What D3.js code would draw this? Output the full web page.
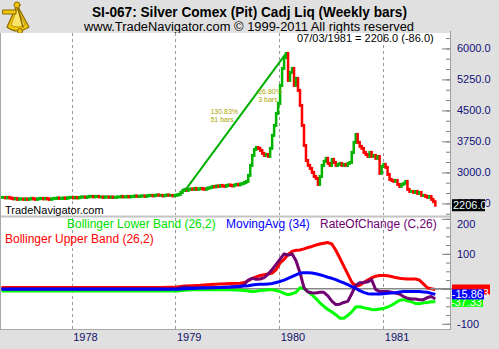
<!DOCTYPE html>
<html><head><meta charset="utf-8">
<script src="https://cdn.jsdelivr.net/npm/d3@7"></script>
<style>
body{margin:0;background:#e0e0e0;}
svg{display:block;font-family:Arial,"Liberation Sans",sans-serif;}
</style>
</head><body>
<svg id="c" width="499" height="349"></svg>
<script>
// ---------------- DATA ----------------
const startDate = "1977-04-29";           // first weekly bar (Friday)
const lastLabel = "07/03/1981 = 2206.0 (-86.0)";
const closes = [
 2395,2395,2383,2395,2383,
 2371,2359,2371,2347,2359,2359,2347,2359,2347,2359,
 2371,2359,2347,2359,2371,2371,2359,2371,2359,2347,2359,2371,2371,2383,2371,
 2371,2383,2371,2383,2395,2395,2383,2395,2383,2395,2407,2407,2395,2407,2419,
 2419,2407,2419,2419,2407,
 2407,2395,2407,2407,2395,2407,2395,2395,2407,2407,2419,2407,2407,2419,2407,2419,2419,2432,2419,2419,2432,2432,2419,2432,2444,
 2444,2432,2444,2456,2444,2444,2432,2444,2456,2444,2444,2432,2444,2456,2468,
 2516,2565,2589,2565,2589,2601,2589,2613,2589,2601,2613,2601,2589,2613,2625,2637,
 2661,2649,2673,2661,2685,2673,2661,2685,2697,2685,2673,2697,2710,2697,2722,
 2734,2758,2782,
 2927,3169,3411,3556,3605,3581,3532,3460,3411,3435,3387,3581,3895,4137,4427,4669,5105,5516,5782,5879,
 5226,5419,5516,5105,5274,4984,4621,4137,3653,3290,3169,3097,3000,2903,2855,2710,2903,
 3169,3266,3339,3218,3169,3315,3242,3169,3194,3218,3169,3194,3169,3218,3242,
 3484,3726,3919,3726,3629,3581,3484,3435,3387,3484,3387,3411,3339,3387,
 2976,3145,3194,3121,2951,2831,2806,2782,2806,2710,2661,2710,2734,2782,
 2589,2540,2540,2516,2540,2492,2516,2444,2444,2419,2395,2419,2347,2292,2206
];
const years = ["1978","1979","1980","1981"];
const priceTicks = [6000,5250,4500,3750,3000,2250];
const oscTicks = [200,100,-100];

// indicator samples (week index into the bar list)
const oscWeeks = [0,20,40,60,80,88,92,96,100,105,110,115,120,122,124,126,128,130,132,134,136,138,140,142,144,146,148,150,152,154,156,158,160,162,164,166,168,170,172,174,176,178,180,182,184,186,188,190,192,194,196,198,200,202,204,206,208,210,212,214,216,218];
const upperBand = [4,4,4,4,4,5,8,9,10,12,14,15,16,18,23,30,34,38,40,42,45,55,74,84,98,107,110,111,114,118,121,125,128,130,132,128,110,88,65,42,19,7,10,18,25,31,36,38,38,37,35,32,30,29,28,28,28,25,14,3,0,-2];
const lowerBand = [-6,-6,-6,-6,-6,-6,-4,-3,-3,-3,-3,-3,-4,-5,-6,-8,-7,-5,-4,-3,-3,-5,-8,-13,-17,-14,-10,3,0,-8,-17,-28,-40,-50,-59,-66,-74,-84,-84,-76,-66,-52,-51,-54,-56,-59,-60,-58,-56,-52,-47,-40,-33,-31,-34,-37,-42,-43,-40,-39,-37,-37];
const movingAvg = [-1,-1,-1,-1,-1,-1,0,1,2,3,4,5,7,8,9,11,12,13,13,14,15,18,21,25,30,35,40,45,46,46,45,43,40,37,33,30,26,21,17,12,6,1,-5,-10,-14,-15,-15,-15,-14,-13,-12,-11,-9,-8,-8,-8,-8,-8,-9,-10,-13,-16];
const rateOfChange = [0,0,0,0,0,1,5,3,4,3,4,5,6,12,25,30,27,28,32,42,55,70,85,100,96,100,80,46,3,-9,-11,-12,-10,-10,-20,-35,-45,-44,-39,-36,-14,10,17,18,20,26,-2,-8,-8,-8,-10,-12,-15,-22,-27,-29,-29,-31,-31,-25,-22,-29];
const lastValues = {upper:"-2.433", ma:"-15.86", lower:"-37.33"};

const trend = [{w:92, p:2547},{w:143, p:5879}];
const notes = [
  {w:105, p:4420, lines:["130.83%","51 bars"]},
  {w:129, p:4900, lines:["26.80%","3 bars"]}
];

// ---------------- CHART ----------------
const svg = d3.select("#c");
const L = 1, R = 450, T1 = 33, B1 = 215, T2 = 218, B2 = 329;

const parse = d3.timeParse("%Y-%m-%d");
const weeks = closes.map((_, i) => d3.timeDay.offset(parse(startDate), 7 * i));
const x = d3.scaleTime().domain([new Date(1978,0,1), new Date(1981,0,1)]).range([71.7, 383.3]);
const yP = d3.scaleLinear().domain([3000, 6000]).range([172.4, 48.4]);
const yO = d3.scaleLinear().domain([-100, 100]).range([323.8, 253.8]);

svg.append("rect").attr("width",499).attr("height",349).attr("fill","#e0e0e0");

// logo (sextant)
const logo = svg.append("g").attr("stroke-linejoin","round").attr("stroke-linecap","round");
logo.append("path").attr("d","M17 5 L7 27 Q17 35 29 27 Z").attr("fill","#f2c60c").attr("stroke","#8a6a00").attr("stroke-width",1.2);
logo.append("path").attr("d","M17 9 L11 25 Q17 29 25 25 Z").attr("fill","#fbe46a").attr("stroke","#b08a00").attr("stroke-width",0.8);
logo.append("rect").attr("x",3).attr("y",10).attr("width",13).attr("height",4).attr("fill","#f2c60c").attr("stroke","#8a6a00").attr("stroke-width",1);
logo.append("path").attr("d","M17 5 L23 27").attr("stroke","#8a6a00").attr("stroke-width",1.5);
logo.append("circle").attr("cx",17).attr("cy",5).attr("r",3).attr("fill","#f2c60c").attr("stroke","#8a6a00");
logo.append("circle").attr("cx",20).attr("cy",31).attr("r",2.5).attr("fill","#f2c60c").attr("stroke","#8a6a00");

// titles
svg.append("text").attr("x",249.5).attr("y",17).attr("text-anchor","middle")
  .attr("font-size",14).attr("font-weight","bold").attr("fill","#000")
  .attr("textLength",315).attr("lengthAdjust","spacingAndGlyphs")
  .text("SI-067:  Silver Comex (Pit) Cadj Liq  (Weekly bars)");
svg.append("text").attr("x",249).attr("y",31).attr("text-anchor","middle")
  .attr("font-size",12.5).attr("fill","#000")
  .attr("textLength",330).attr("lengthAdjust","spacingAndGlyphs")
  .text("www.TradeNavigator.com \u00a9 1999-2011 All rights reserved");

// panels
svg.append("rect").attr("x",L).attr("y",T1).attr("width",R-L).attr("height",B1-T1).attr("fill","#fff");
svg.append("rect").attr("x",L).attr("y",T2).attr("width",R-L).attr("height",B2-T2).attr("fill","#fff");
svg.append("line").attr("x1",0).attr("x2",R).attr("y1",B1+1.5).attr("y2",B1+1.5).attr("stroke","#c4c4c4");
svg.append("line").attr("x1",L-0.5).attr("x2",L-0.5).attr("y1",T1).attr("y2",B2).attr("stroke","#a8a8a8");
svg.append("line").attr("x1",0).attr("x2",R+1).attr("y1",B2+0.5).attr("y2",B2+0.5).attr("stroke","#a8a8a8");
svg.append("line").attr("x1",R+0.5).attr("x2",R+0.5).attr("y1",T1-2).attr("y2",B2+1).attr("stroke","#a0a0a0");

const defs = svg.append("defs");
defs.append("clipPath").attr("id","c1").append("rect").attr("x",L).attr("y",T1).attr("width",R-L).attr("height",B1-T1);
defs.append("clipPath").attr("id","c2").append("rect").attr("x",L).attr("y",T2).attr("width",R-L).attr("height",B2-T2);

// grid lines
const yearDates = years.map(y => new Date(+y, 0, 1));
[[T1,B1],[T2,B2]].forEach(([a,b]) => {
  svg.append("g").selectAll("line").data(yearDates).join("line")
    .attr("x1", d => Math.round(x(d)) + 0.5).attr("x2", d => Math.round(x(d)) + 0.5)
    .attr("y1", a).attr("y2", b)
    .attr("stroke","#999").attr("stroke-dasharray","3,3");
});

// price bars
const gP = svg.append("g").attr("clip-path","url(#c1)");
const bars = closes.map((c, i) => ({d: weeks[i], c, p: i ? closes[i-1] : c}));
gP.selectAll("rect").data(bars).join("rect")
  .attr("x", d => x(d.d) - 1.25).attr("width", 2.5)
  .attr("y", d => yP(Math.max(d.c, d.p)) - 1.5)
  .attr("height", d => Math.abs(yP(d.c) - yP(d.p)) + 3)
  .attr("fill", d => d.c >= d.p ? "#00b400" : "#ff0000");

// trend line + notes
gP.append("path")
  .attr("d", d3.line().x(d => x(weeks[d.w])).y(d => yP(d.p))(trend))
  .attr("stroke","#00b000").attr("stroke-width",2).attr("fill","none");
notes.forEach(n => {
  const t = gP.append("text").attr("font-size",7).attr("fill","#a8a800")
    .attr("x", x(weeks[n.w])).attr("y", yP(n.p));
  n.lines.forEach((s, k) => t.append("tspan").attr("x", x(weeks[n.w])).attr("dy", k ? 8 : 0).text(s));
});

svg.append("text").attr("x",297).attr("y",42).attr("font-size",11).attr("fill","#000").text(lastLabel);
svg.append("text").attr("x",5).attr("y",214).attr("font-size",11).attr("fill","#000").text("TradeNavigator.com");

// price axis
const minorP = d3.range(2000, 6400, 250).filter(v => yP(v) > T1 && yP(v) < B1);
svg.append("g").attr("transform",`translate(${R},0)`)
  .call(d3.axisRight(yP).tickValues(minorP).tickSize(-4).tickFormat(""))
  .call(g => { g.select(".domain").remove(); g.selectAll("line").attr("stroke","#808080"); });
svg.append("g").attr("transform",`translate(${R},0)`)
  .call(d3.axisRight(yP).tickValues(priceTicks).tickSize(-8).tickPadding(7).tickFormat(d3.format(".1f")))
  .call(g => { g.select(".domain").remove(); g.selectAll("line").attr("stroke","#808080");
    g.selectAll("text").attr("font-size",11).attr("fill","#10107a").attr("font-family","Arial,'Liberation Sans',sans-serif"); });

// last price box
const lastY = yP(closes[closes.length-1]);
svg.append("rect").attr("x",452).attr("y",lastY-6).attr("width",33).attr("height",12).attr("fill","#000");
svg.append("text").attr("x",453).attr("y",lastY+4).attr("font-size",11).attr("fill","#e8ffff")
  .text(d3.format(".1f")(closes[closes.length-1]));

// oscillator panel
const gO = svg.append("g").attr("clip-path","url(#c2)");
gO.append("line").attr("x1",L).attr("x2",R).attr("y1",yO(0)).attr("y2",yO(0)).attr("stroke","#888").attr("stroke-width",1.5);
const oscSeries = [
  {vals: upperBand, color:"#ff0000"},
  {vals: lowerBand, color:"#00ff00"},
  {vals: rateOfChange, color:"#700070"},
  {vals: movingAvg, color:"#0000ff"}
];
const oscLine = d3.line().x(d => x(weeks[d.w])).y(d => yO(d.v));
oscSeries.forEach(s => {
  const pts = oscWeeks.map((w, i) => ({w, v: s.vals[i]}));
  gO.append("path").attr("d", oscLine(pts)).attr("fill","none")
    .attr("stroke", s.color).attr("stroke-width",3).attr("stroke-linejoin","round");
});
svg.append("line").attr("x1",R-20).attr("x2",R+3).attr("y1",yO(0)).attr("y2",yO(0)).attr("stroke","#888").attr("stroke-width",1.5);

// oscillator axis
const minorO = d3.range(-100, 201, 25);
svg.append("g").attr("transform",`translate(${R},0)`)
  .call(d3.axisRight(yO).tickValues(minorO).tickSize(-4).tickFormat(""))
  .call(g => { g.select(".domain").remove(); g.selectAll("line").attr("stroke","#808080"); });
svg.append("g").attr("transform",`translate(${R},0)`)
  .call(d3.axisRight(yO).tickValues([...oscTicks, 0]).tickSize(-8).tickPadding(7).tickFormat(d => d === 0 ? "" : String(d)))
  .call(g => { g.select(".domain").remove(); g.selectAll("line").attr("stroke","#808080");
    g.selectAll("text").attr("font-size",11).attr("fill","#10107a").attr("font-family","Arial,'Liberation Sans',sans-serif")
     .attr("dy", d => d === 200 ? "0.8em" : "0.32em"); });

// value boxes
function box(v, txt, w, bg, fg, dy) {
  const yy = yO(v);
  svg.append("rect").attr("x",452).attr("y",yy-5).attr("width",w).attr("height",10).attr("fill",bg);
  svg.append("text").attr("x",452+w-1).attr("y",yy+dy).attr("text-anchor","end")
    .attr("font-size",11).attr("fill",fg).text(txt);
}
box(upperBand[upperBand.length-1], lastValues.upper, 38, "#ff0000", "#fff", 7.5);
box(lowerBand[lowerBand.length-1], lastValues.lower, 31, "#00ff00", "#fff", 4);
box(movingAvg[movingAvg.length-1], lastValues.ma, 32, "#0000ff", "#fff", 4);

// legends
const leg = [
  {t:"Bollinger Lower Band (26,2)", x:67, y:228, c:"#00e000"},
  {t:"MovingAvg (34)", x:226, y:228, c:"#0000ff"},
  {t:"RateOfChange (C,26)", x:320, y:228, c:"#700070"},
  {t:"Bollinger Upper Band (26,2)", x:5, y:243, c:"#ff0000"}
];
svg.append("g").selectAll("text").data(leg).join("text")
  .attr("x", d => d.x).attr("y", d => d.y).attr("font-size",12).attr("fill", d => d.c).text(d => d.t);

// x axis
svg.append("g").attr("transform",`translate(0,${B2})`)
  .call(d3.axisBottom(x).tickValues(yearDates).tickSize(0).tickPadding(4).tickFormat(d3.timeFormat("%Y")))
  .call(g => { g.select(".domain").remove();
    g.selectAll("text").attr("text-anchor","start").attr("dx",1).attr("font-size",11)
     .attr("fill","#10106a").attr("font-family","Arial,'Liberation Sans',sans-serif"); });
</script>
</body></html>
